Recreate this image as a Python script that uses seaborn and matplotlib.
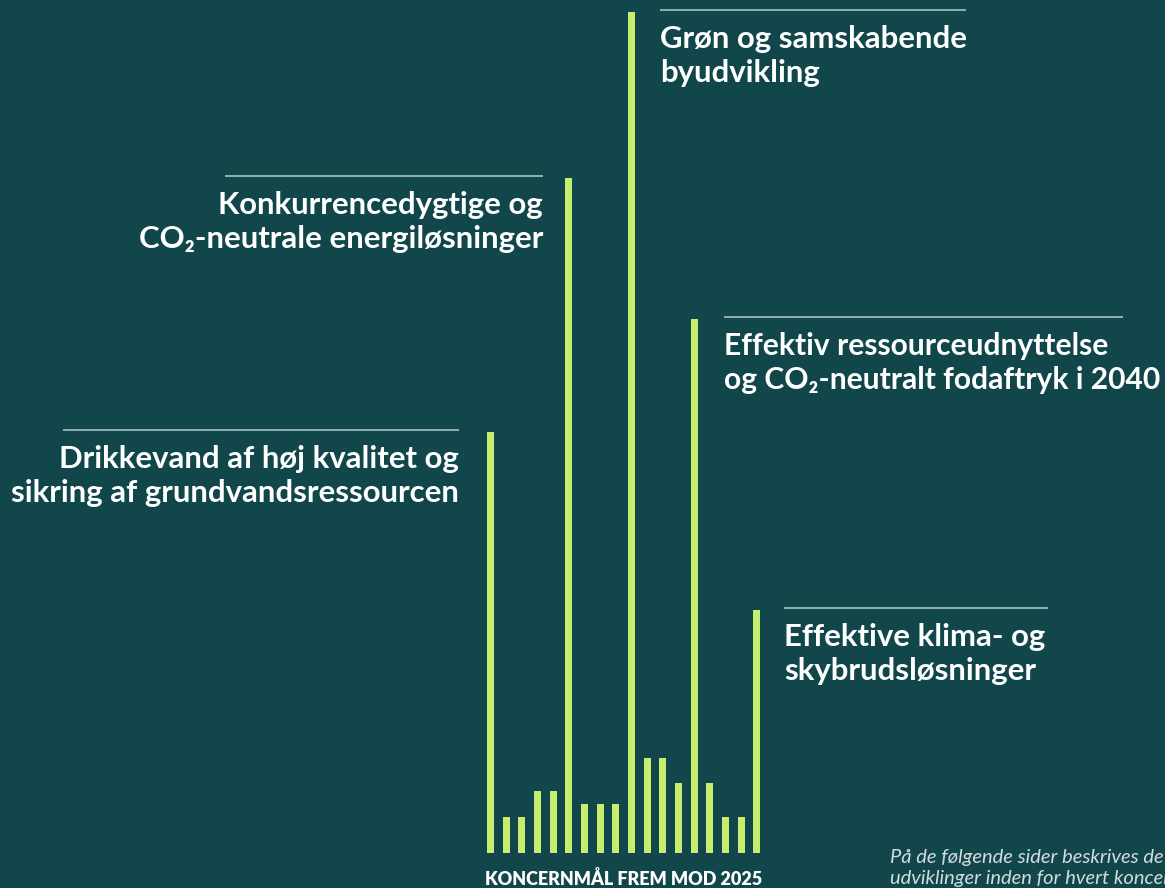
import pandas as pd
import matplotlib.pyplot as plt
import seaborn as sns

# ---------------------------------------------------------
# Data
# ---------------------------------------------------------
bar_ids = [f"b{i}" for i in range(1, 19)]
bar_heights = [421, 36, 36, 62, 62, 675, 49, 49, 49, 841, 95, 95, 70, 534, 70, 36, 36, 243]

# label text + which bar it belongs to
goal_labels = [
    "Drikkevand af høj kvalitet og\nsikring af grundvandsressourcen",
    "Konkurrencedygtige og\nCO₂-neutrale energiløsninger",
    "Grøn og samskabende\nbyudvikling",
    "Effektiv ressourceudnyttelse\nog CO₂-neutralt fodaftryk i 2040",
    "Effektive klima- og\nskybrudsløsninger",
]
goal_bars = [0, 5, 9, 13, 17]

footer_title = "KONCERNMÅL FREM MOD 2025"
footer_note = "På de følgende sider beskrives de mål og\nudviklinger inden for hvert koncernmål"

# ---------------------------------------------------------
# Style
# ---------------------------------------------------------
bg = "#11474b"
bar_col = "#c6ee6e"
rule_col = "#b9caca"
W, H = 1165, 888

sns.set_theme(style="white")
plt.rcParams["font.family"] = ["Lato", "DejaVu Sans"]

df = pd.DataFrame({"bar": bar_ids, "height": bar_heights})

fig = plt.figure(figsize=(W / 100, H / 100), dpi=100, facecolor=bg)
ax = fig.add_axes([0, 0, 1, 1])
ax.set_facecolor(bg)

sns.barplot(data=df, x="bar", y="height", color=bar_col, width=0.45,
            saturation=1, linewidth=0, ax=ax)

# pixel layout: bar 0 centred at x=490.5, spacing 15.66 px, baseline at y=853
step = 15.66
x0 = 490.5
ax.set_xlim(-x0 / step, (W - x0) / step)
ax.set_ylim(-(H - 853), 853)
ax.axis("off")


def px_x(x):
    return (x - x0) / step


# (line start px, line end px, text anchor px, alignment, font size)
label_geom = [
    (63, 459, 459, "right", 22.4),
    (225, 543, 543, "right", 22.4),
    (660, 966, 660, "left", 22.4),
    (724, 1123, 724, "left", 21.6),
    (784, 1048, 784, "left", 22.4),
]

for txt, bi, (l0, l1, tx, ha, fs) in zip(goal_labels, goal_bars, label_geom):
    top = bar_heights[bi] + 2
    ax.hlines(top, px_x(l0), px_x(l1), color=rule_col, lw=1.1)
    # last line baseline ~72 px under the rule
    ax.text(px_x(tx), top - 72, txt, ha=ha, va="baseline", color="white",
            fontsize=fs, fontweight="bold", linespacing=1.26)

ax.text(px_x(623.5), -32, footer_title, ha="center", va="baseline",
        color="white", fontsize=13, fontweight="heavy")
ax.text(px_x(890), -31, footer_note, ha="left", va="baseline",
        color="#d3dcdc", fontsize=14.5, style="italic", linespacing=1.3)

plt.savefig("out.png", dpi=100, facecolor=bg)
